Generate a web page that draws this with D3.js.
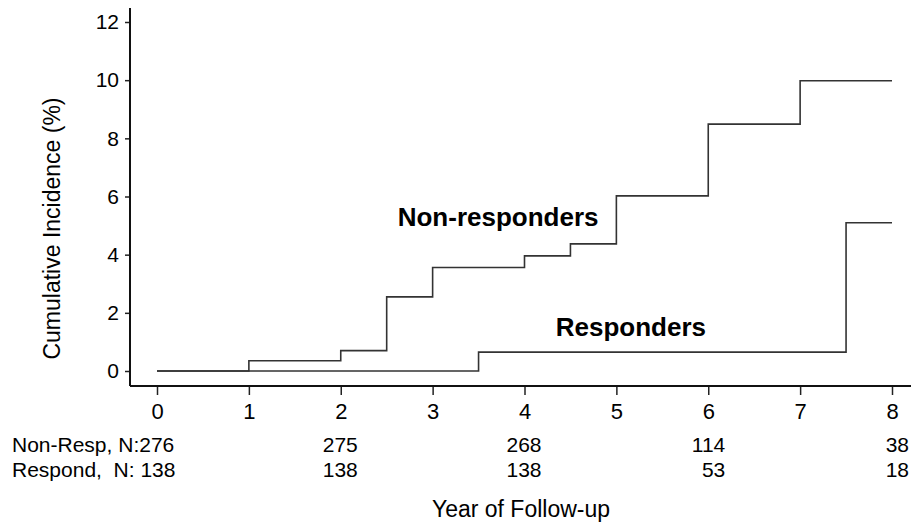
<!DOCTYPE html>
<html>
<head>
<meta charset="utf-8">
<script src="https://cdn.jsdelivr.net/npm/d3@7"></script>
<style>
  body { margin: 0; background: #fff; }
  svg text { font-family: "Liberation Sans", Arial, Helvetica, sans-serif; fill: #000; }
</style>
</head>
<body>
<script>
// step times (years) and cumulative incidence (%)
var nonRespYears = [0, 1, 2, 2.5, 3, 4, 4.5, 5, 6, 7, 8],
    nonRespValues = [0, 0.35, 0.7, 2.55, 3.56, 3.96, 4.37, 6.02, 8.49, 9.98, 9.98],
    respYears = [0, 3.5, 7.5, 8],
    respValues = [0, 0.65, 5.1, 5.1];

// x and y ticks
var xTicks = [0, 1, 2, 3, 4, 5, 6, 7, 8],
    yTicks = [0, 2, 4, 6, 8, 10, 12];

// numbers at risk
var riskYears = [2, 4, 6, 8],
    riskNonResp = [275, 268, 114, 38],
    riskResp = [138, 138, 53, 18];

var width = 911,
    height = 527;

var svg = d3.select("body").append("svg")
    .attr("width", width)
    .attr("height", height);

// scales
var x = d3.scaleLinear().domain([0, 8]).range([157, 892]);
var y = d3.scaleLinear().domain([0, 12]).range([371, 22]);

var axisX = 130,   // position of the y-axis line
    axisY = 386;   // position of the x-axis line

// y-axis
var yAxis = svg.append("g")
    .attr("transform", "translate(" + axisX + ",0)")
    .call(d3.axisLeft(y).tickValues(yTicks).tickSize(5).tickPadding(6));
yAxis.select(".domain").remove();
yAxis.selectAll("text").style("font-size", "21px");
yAxis.selectAll("line").attr("stroke", "#222").attr("stroke-width", 1.5);

svg.append("line")
    .attr("x1", axisX).attr("x2", axisX)
    .attr("y1", 8).attr("y2", axisY)
    .attr("stroke", "#111").attr("stroke-width", 2);

// x-axis
var xAxis = svg.append("g")
    .attr("transform", "translate(0," + axisY + ")")
    .call(d3.axisBottom(x).tickValues(xTicks).tickSize(9).tickPadding(8));
xAxis.select(".domain").remove();
xAxis.selectAll("text").style("font-size", "22px");
xAxis.selectAll("line").attr("stroke", "#222").attr("stroke-width", 1.5);

svg.append("line")
    .attr("x1", axisX).attr("x2", width)
    .attr("y1", axisY).attr("y2", axisY)
    .attr("stroke", "#111").attr("stroke-width", 2);

// step lines
var line = d3.line()
    .x(function(d) { return x(d[0]); })
    .y(function(d) { return y(d[1]); })
    .curve(d3.curveStepAfter);

svg.append("path")
    .datum(d3.zip(nonRespYears, nonRespValues))
    .attr("d", line)
    .attr("fill", "none")
    .attr("stroke", "#333")
    .attr("stroke-width", 1.6);

svg.append("path")
    .datum(d3.zip(respYears, respValues))
    .attr("d", line)
    .attr("fill", "none")
    .attr("stroke", "#333")
    .attr("stroke-width", 1.6);

// curve labels
svg.append("text")
    .attr("x", x(2.62))
    .attr("y", y(4.99))
    .style("font-size", "26px")
    .style("font-weight", "bold")
    .text("Non-responders");

svg.append("text")
    .attr("x", x(4.34))
    .attr("y", y(1.2))
    .style("font-size", "26px")
    .style("font-weight", "bold")
    .text("Responders");

// y-axis title
svg.append("text")
    .attr("transform", "translate(60," + ((95 + 362) / 2) + ") rotate(-90)")
    .style("text-anchor", "middle")
    .style("font-size", "23px")
    .text("Cumulative Incidence (%)");

// numbers at risk
svg.append("text")
    .attr("x", 12)
    .attr("y", 452)
    .style("font-size", "21px")
    .text("Non-Resp, N:276");

svg.append("text")
    .attr("x", 12)
    .attr("y", 477)
    .style("font-size", "21px")
    .attr("xml:space", "preserve")
    .style("white-space", "pre")
    .text("Respond,  N: 138");

svg.selectAll(".riskNon")
    .data(riskYears)
    .enter().append("text")
    .attr("class", "riskNon")
    .attr("x", function(d) { return x(d) + 17; })
    .attr("y", 452)
    .style("text-anchor", "end")
    .style("font-size", "21px")
    .text(function(d, i) { return riskNonResp[i]; });

svg.selectAll(".riskResp")
    .data(riskYears)
    .enter().append("text")
    .attr("class", "riskResp")
    .attr("x", function(d) { return x(d) + 17; })
    .attr("y", 477)
    .style("text-anchor", "end")
    .style("font-size", "21px")
    .text(function(d, i) { return riskResp[i]; });

// x-axis title
svg.append("text")
    .attr("x", 521)
    .attr("y", 517)
    .style("text-anchor", "middle")
    .style("font-size", "23px")
    .text("Year of Follow-up");
</script>
</body>
</html>
